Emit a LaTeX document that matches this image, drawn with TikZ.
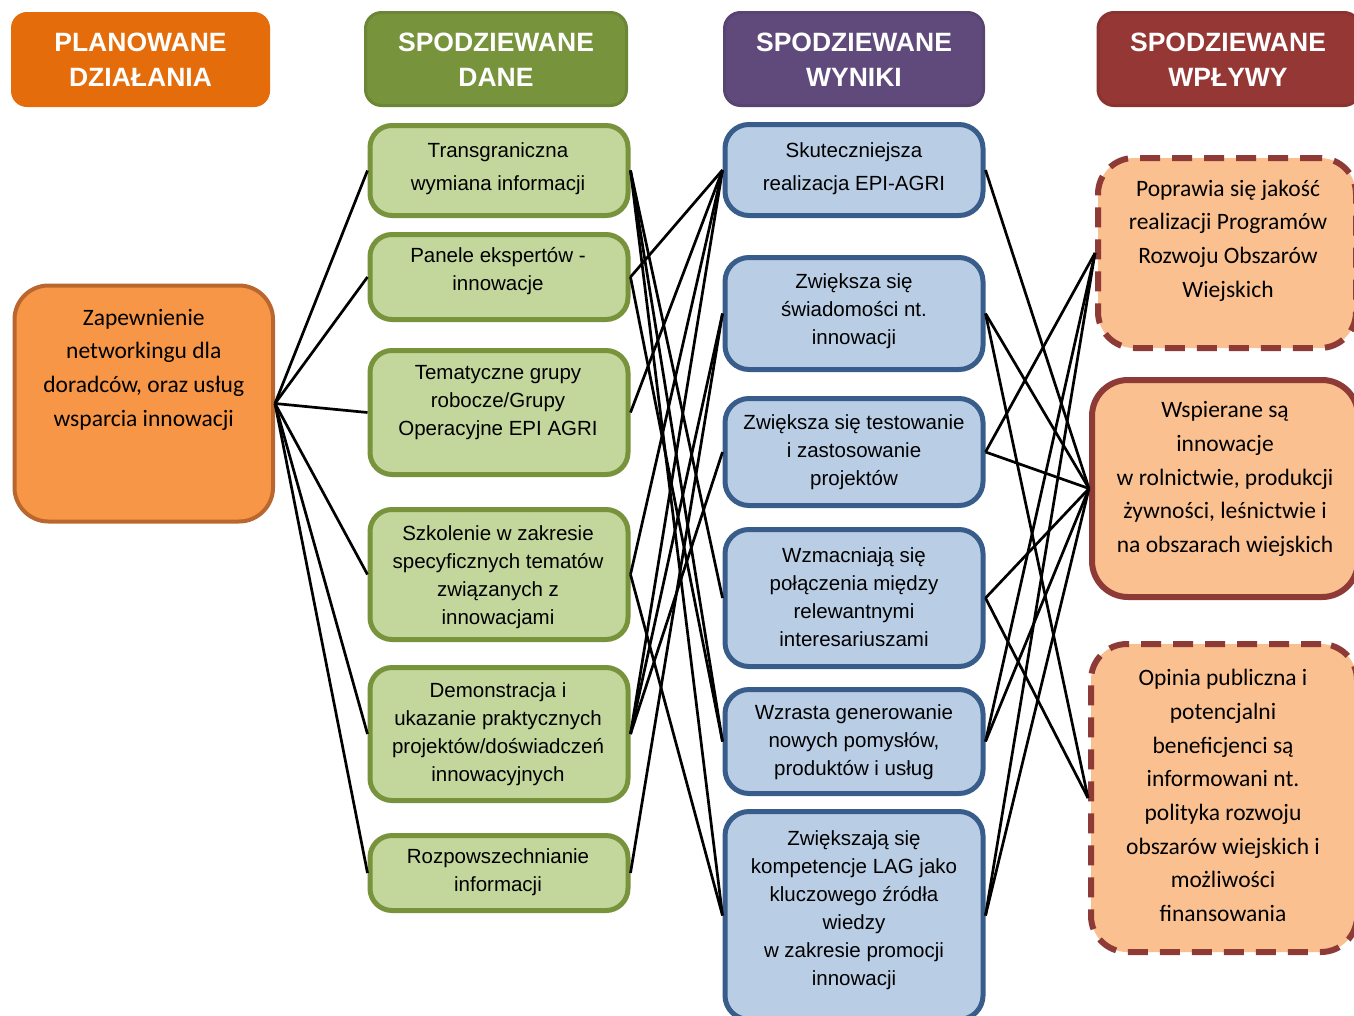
\documentclass[tikz,border=0pt]{standalone}
\usepackage{fontspec}
\setmainfont{Liberation Sans}
\newfontfamily\calfont{Carlito}
\definecolor{hOrange}{HTML}{E46C0A}
\definecolor{hGreen}{HTML}{77933C}
\definecolor{hGreenLn}{HTML}{6B8635}
\definecolor{hPurple}{HTML}{604A7B}
\definecolor{hPurpleLn}{HTML}{574470}
\definecolor{hRed}{HTML}{953735}
\definecolor{hRedLn}{HTML}{8A3331}
\definecolor{actFill}{HTML}{F79646}
\definecolor{actLn}{HTML}{B9672E}
\definecolor{grFill}{HTML}{C3D69B}
\definecolor{grLn}{HTML}{77933C}
\definecolor{blFill}{HTML}{B9CDE5}
\definecolor{blLn}{HTML}{385D8A}
\definecolor{peFill}{HTML}{FAC090}
\definecolor{peLn}{HTML}{8E3A37}
\begin{document}
\begin{tikzpicture}[x=1pt,y=-1pt,
  header/.style={rounded corners=16pt, text=white, align=center,
    font=\fontsize{26.5}{35}\selectfont\bfseries, inner sep=0pt},
  actbox/.style={draw=actLn, fill=actFill, line width=4pt, rounded corners=34pt, inner sep=0pt},
  outbox/.style={draw=grLn, fill=grFill, line width=5pt, rounded corners=22pt, inner sep=0pt},
  resbox/.style={draw=blLn, fill=blFill, line width=5pt, rounded corners=24pt, inner sep=0pt},
  impbox/.style={draw=peLn, fill=peFill, line width=6pt, rounded corners=36pt, inner sep=0pt},
  impdash/.style={impbox, dash pattern=on 20pt off 12pt},
  smalltxt/.style={align=center, inner sep=0pt, font=\fontsize{20.5}{28}\selectfont},
  widetxt/.style={align=center, inner sep=0pt, font=\fontsize{20.5}{33}\selectfont},
  caltxt/.style={align=center, inner sep=0pt, font=\calfont\fontsize{23.5}{33.7}\selectfont},
  link/.style={line width=2.7pt, black}
]
\useasboundingbox (0,0) rectangle (1354,1015);

% column headers
\node[header, fill=hOrange, minimum width=259pt, minimum height=95pt] (hA) at (140.5,59.5) {};
\node[header, fill=hGreen, draw=hGreenLn, line width=3pt, minimum width=261pt, minimum height=93pt] (hB) at (496,59) {};
\node[header, fill=hPurple, draw=hPurpleLn, line width=3pt, minimum width=259pt, minimum height=93pt] (hC) at (854,59) {};
\node[header, fill=hRed, draw=hRedLn, line width=3pt, minimum width=262pt, minimum height=93pt] (hD) at (1229,59) {};
\node[header] (hAt) at (140.5,59.5) {PLANOWANE\\DZIAŁANIA};
\node[header] (hBt) at (496,59.5) {SPODZIEWANE\\DANE};
\node[header] (hCt) at (854,59.5) {SPODZIEWANE\\WYNIKI};
\node[header] (hDt) at (1228,59.5) {SPODZIEWANE\\WPŁYWY};

% planned action
\node[actbox, minimum width=258.5pt, minimum height=236pt] (act) at (143.75,403.5) {};
\node[caltxt] (actT) at (143.75,369.5) {Zapewnienie\\networkingu dla\\doradców, oraz usług\\wsparcia innowacji};

% expected outputs
\node[outbox, minimum width=258pt, minimum height=90pt]  (g1) at (499,170.5) {};
\node[outbox, minimum width=258pt, minimum height=85pt]  (g2) at (499,277) {};
\node[outbox, minimum width=258pt, minimum height=124pt] (g3) at (499,412.5) {};
\node[outbox, minimum width=258pt, minimum height=130pt] (g4) at (499,574.5) {};
\node[outbox, minimum width=258pt, minimum height=133pt] (g5) at (499,734) {};
\node[outbox, minimum width=258pt, minimum height=75pt]  (g6) at (499,873) {};
\node[widetxt] (g1t) at (498,168.5) {Transgraniczna\\wymiana informacji};
\node[smalltxt] (g2t) at (498,271) {Panele ekspertów -\\innowacje};
\node[smalltxt] (g3t) at (498,403) {Tematyczne grupy\\robocze/Grupy\\Operacyjne EPI AGRI};
\node[smalltxt] (g4t) at (498,577) {Szkolenie w zakresie\\specyficznych tematów\\związanych z\\innowacjami};
\node[smalltxt] (g5t) at (498,734) {Demonstracja i\\ukazanie praktycznych\\projektów/doświadczeń\\innowacyjnych};
\node[smalltxt] (g6t) at (498,872) {Rozpowszechnianie\\informacji};

% expected results
\node[resbox, minimum width=258pt, minimum height=91pt]  (b1) at (854,170) {};
\node[resbox, minimum width=258pt, minimum height=112pt] (b2) at (854,313.5) {};
\node[resbox, minimum width=258pt, minimum height=107pt] (b3) at (854,452) {};
\node[resbox, minimum width=258pt, minimum height=137pt] (b4) at (854,598) {};
\node[resbox, minimum width=258pt, minimum height=104pt] (b5) at (854,741.5) {};
\node[resbox, minimum width=258pt, minimum height=208pt] (b6) at (854,915.5) {};
\node[widetxt] (b1t) at (854,168.5) {Skuteczniejsza\\realizacja EPI-AGRI};
\node[smalltxt] (b2t) at (854,310.7) {Zwiększa się\\świadomości nt.\\innowacji};
\node[smalltxt] (b3t) at (854,452) {Zwiększa się testowanie\\i zastosowanie\\projektów};
\node[smalltxt] (b4t) at (854,597.5) {Wzmacniają się\\połączenia między\\relewantnymi\\interesariuszami};
\node[smalltxt] (b5t) at (854,741.7) {Wzrasta generowanie\\nowych pomysłów,\\produktów i usług};
\node[smalltxt] (b6t) at (854,910.5) {Zwiększają się\\kompetencje LAG jako\\kluczowego źródła\\wiedzy\\w zakresie promocji\\innowacji};

% expected impacts
\node[impdash, minimum width=258pt, minimum height=190pt] (w1) at (1227,253) {};
\node[impbox, minimum width=266pt, minimum height=217pt]  (w2) at (1225,488.5) {};
\node[impdash, minimum width=266pt, minimum height=308pt] (w3) at (1224,798) {};
\node[caltxt] (w1t) at (1228,240.5) {Poprawia się jakość\\realizacji Programów\\Rozwoju Obszarów\\Wiejskich};
\node[caltxt] (w2t) at (1225,479) {Wspierane są\\innowacje\\w rolnictwie, produkcji\\żywności, leśnictwie i\\na obszarach wiejskich};
\node[caltxt] (w3t) at (1223,795.6) {Opinia publiczna i\\potencjalni\\beneficjenci są\\informowani nt.\\polityka rozwoju\\obszarów wiejskich i\\możliwości\\finansowania};

% action -> outputs
\foreach \g in {g1,g2,g3,g4,g5,g6}
  \draw[link] (act.east) -- (\g.west);

% outputs -> results
\draw[link] (g1.east) -- (b4.west);
\draw[link] (g1.east) -- (b5.west);
\draw[link] (g1.east) -- (b6.west);
\draw[link] (g2.east) -- (b1.west);
\draw[link] (g2.east) -- (b5.west);
\draw[link] (g3.east) -- (b1.west);
\draw[link] (g4.east) -- (b1.west);
\draw[link] (g4.east) -- (b6.west);
\draw[link] (g5.east) -- (b1.west);
\draw[link] (g5.east) -- (b2.west);
\draw[link] (g5.east) -- (b3.west);
\draw[link] (g6.east) -- (b2.west);

% results -> impacts
\draw[link] (b1.east) -- (w2.west);
\draw[link] (b2.east) -- (w2.west);
\draw[link] (b2.east) -- (w3.west);
\draw[link] (b3.east) -- (w1.west);
\draw[link] (b3.east) -- (w2.west);
\draw[link] (b4.east) -- (w2.west);
\draw[link] (b4.east) -- (w3.west);
\draw[link] (b5.east) -- (w1.west);
\draw[link] (b5.east) -- (w2.west);
\draw[link] (b6.east) -- (w1.west);
\draw[link] (b6.east) -- (w2.west);
\end{tikzpicture}
\end{document}
